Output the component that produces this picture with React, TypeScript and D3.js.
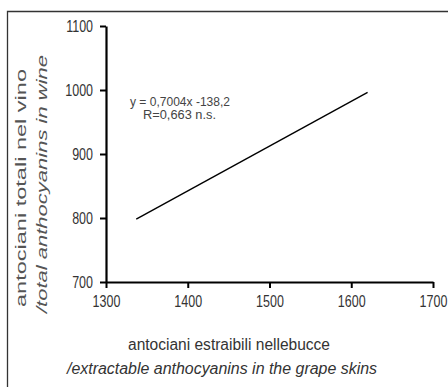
import React, { useEffect, useRef } from 'react';
import * as d3 from 'd3';

// regressione: antociani estraibili vs antociani nel vino
const xTicks = [1300, 1400, 1500, 1600, 1700];
const yTicks = [700, 800, 900, 1000, 1100];
const lineX = [1337, 1620];
const slope = 0.7004;
const intercept = -138.2;
const eqLines = ['y = 0,7004x -138,2', 'R=0,663 n.s.'];
const xTitle = ['antociani estraibili nellebucce', '/extractable anthocyanins in the grape skins'];
const yTitle = ['antociani totali nel vino', '/total anthocyanins in wine'];

const W = 448;
const H = 387;
const font = '"Liberation Sans", Arial, sans-serif';

// testo "stretto" come nell'originale
const squeeze = (sel: d3.Selection<any, any, any, any>, k: number) => {
  sel.each(function () {
    const t = this as SVGTextElement;
    const w = t.getComputedTextLength();
    d3.select(t).attr('textLength', w * k).attr('lengthAdjust', 'spacingAndGlyphs');
  });
};

export default function App() {
  const ref = useRef<SVGSVGElement>(null);

  useEffect(() => {
    const svg = d3.select(ref.current);
    svg.selectAll('*').remove();

    const x = d3.scaleLinear().domain([1300, 1700]).range([106, 433]);
    const y = d3.scaleLinear().domain([700, 1100]).range([282, 26]);

    // cornice
    svg.append('path')
      .attr('d', `M7.5,${H} V11.5 H${W}`)
      .attr('fill', 'none')
      .attr('stroke', '#333')
      .attr('stroke-width', 1.3);

    // assi
    const xAxis = svg.append('g')
      .attr('transform', 'translate(0,282)')
      .call(d3.axisBottom(x).tickValues(xTicks).tickFormat(d3.format('d')).tickSize(6).tickSizeOuter(0).tickPadding(8));
    const yAxis = svg.append('g')
      .attr('transform', 'translate(106,0)')
      .call(d3.axisLeft(y).tickValues(yTicks).tickFormat(d3.format('d')).tickSize(6).tickSizeOuter(0).tickPadding(7));

    [xAxis, yAxis].forEach(g => {
      g.select('.domain').attr('stroke', '#000').attr('stroke-width', 2.2);
      g.selectAll('.tick line').attr('stroke', '#000').attr('stroke-width', 2);
      g.selectAll('.tick text')
        .attr('fill', '#333')
        .style('font-family', font)
        .style('font-size', '16px');
      squeeze(g.selectAll('.tick text'), 0.78);
    });
    yAxis.selectAll('.tick text').attr('dy', '0.36em');

    // retta di regressione
    const line = d3.line<number>()
      .x(d => x(d))
      .y(d => y(slope * d + intercept));
    svg.append('path')
      .datum(lineX)
      .attr('d', line)
      .attr('fill', 'none')
      .attr('stroke', '#000')
      .attr('stroke-width', 1.4);

    // equazione
    svg.append('text')
      .attr('x', 130).attr('y', 106)
      .attr('fill', '#444')
      .style('font-family', font)
      .style('font-size', '12px')
      .attr('textLength', 100).attr('lengthAdjust', 'spacingAndGlyphs')
      .text(eqLines[0]);
    svg.append('text')
      .attr('x', 143).attr('y', 119)
      .attr('fill', '#444')
      .style('font-family', font)
      .style('font-size', '12px')
      .attr('textLength', 73).attr('lengthAdjust', 'spacingAndGlyphs')
      .text(eqLines[1]);

    // titoli
    svg.append('text')
      .attr('x', 229).attr('y', 350)
      .attr('text-anchor', 'middle')
      .attr('fill', '#333')
      .style('font-family', font)
      .style('font-size', '16px')
      .attr('textLength', 202).attr('lengthAdjust', 'spacingAndGlyphs')
      .text(xTitle[0]);
    svg.append('text')
      .attr('x', 222).attr('y', 374)
      .attr('text-anchor', 'middle')
      .attr('fill', '#333')
      .style('font-family', font)
      .style('font-size', '16px')
      .style('font-style', 'italic')
      .attr('textLength', 310).attr('lengthAdjust', 'spacingAndGlyphs')
      .text(xTitle[1]);

    svg.append('text')
      .attr('transform', 'translate(26,188) rotate(-90)')
      .attr('text-anchor', 'middle')
      .attr('fill', '#555')
      .style('font-family', font)
      .style('font-size', '14px')
      .attr('textLength', 238).attr('lengthAdjust', 'spacingAndGlyphs')
      .text(yTitle[0]);
    svg.append('text')
      .attr('transform', 'translate(47,184) rotate(-90)')
      .attr('text-anchor', 'middle')
      .attr('fill', '#555')
      .style('font-family', font)
      .style('font-size', '14px')
      .style('font-style', 'italic')
      .attr('textLength', 258).attr('lengthAdjust', 'spacingAndGlyphs')
      .text(yTitle[1]);
  }, []);

  return (
    <svg
      ref={ref}
      width={W}
      height={H}
      style={{ position: 'absolute', left: 0, top: 0, background: '#fff' }}
    />
  );
}
